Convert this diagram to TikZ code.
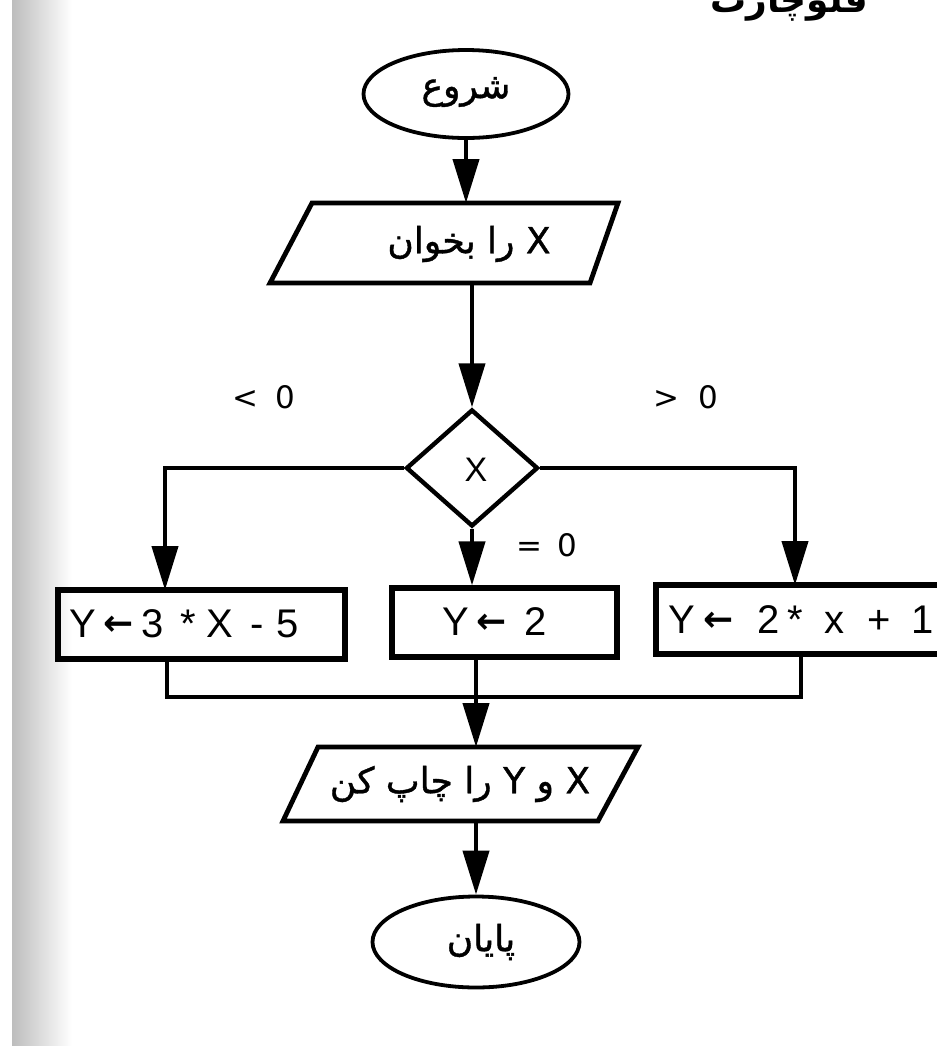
\documentclass[tikz,border=0pt]{standalone}
\usepackage{fontspec}
\setmainfont{Liberation Sans}
\newfontfamily\arabicfont[Script=Arabic,FakeBold=1.1]{DejaVu Sans}
\newfontfamily\arabicbold[Script=Arabic]{DejaVu Sans Bold}
\newfontfamily\symfont{DejaVu Sans}
\newfontfamily\symbold{DejaVu Sans Bold}
\TeXXeTstate=1
\newcommand{\myarrow}{\raisebox{1pt}{\symbold\fontsize{18}{21}\selectfont ←}}
\usetikzlibrary{shapes.geometric,arrows.meta}
\begin{document}
\begin{tikzpicture}[x=0.5pt,y=-0.5pt,
  conn/.style={line width=2.1pt},
  arr/.style={conn,-{Triangle[length=22pt,width=13pt]}},
  shapeline/.style={line width=2.4pt,line join=miter},
  box/.style={draw,rectangle,line width=2.6pt,inner sep=0pt,minimum height=34.5pt},
  term/.style={draw,ellipse,line width=1.9pt,inner sep=0pt},
  ar/.style={inner sep=0pt,font=\arabicfont\fontsize{18}{22}\selectfont},
  boxtxt/.style={inner sep=0pt,anchor=west,font=\fontsize{20}{24}\selectfont},
  lbl/.style={inner sep=0pt,anchor=west,font=\symfont\fontsize{15.5}{19}\selectfont}]
\useasboundingbox (0,0) rectangle (937,1046);
\clip (0,0) rectangle (937,1046);
\fill[white] (0,0) rectangle (937,1046);
\shade[left color=black!26,right color=white] (12,0) rectangle (72,1046);
% title (cut off at the top edge)
\node[inner sep=0pt,anchor=base west,font=\arabicbold\fontsize{18}{22}\selectfont] (title) at (710,12) {\beginR فلوچارت\endR};
% start
\node[term,minimum width=102.5pt,minimum height=44pt] (start) at (466,94) {};
\node[ar] (starttxt) at (466,92) {\beginR شروع\endR};
% input
\coordinate (i1) at (312,203);
\coordinate (i2) at (618,203);
\coordinate (i3) at (590,283);
\coordinate (i4) at (270,283);
\draw[shapeline] (i1) -- (i2) -- (i3) -- (i4) -- cycle;
\node[ar] (intxt) at (469,244) {\beginR X را بخوان\endR};
\coordinate (intop) at (466,203);
\coordinate (inbot) at (472,283);
\draw[arr] (start.south) -- (intop);
% decision
\node[diamond,draw,line width=2.2pt,minimum width=66pt,minimum height=58.5pt,inner sep=0pt] (dec) at (472,468) {};
\node[inner sep=0pt,font=\fontsize{17}{20}\selectfont] (dectxt) at (476,470) {X};
\draw[arr] (inbot) -- (dec.north);
\node[lbl] (lt) at (232.5,397) {<\hspace{8.5pt}0};
\node[lbl] (gt) at (653.5,397) {>\hspace{9.5pt}0};
\node[lbl] (eq) at (516.5,545) {=\hspace{7.5pt}0};
% process boxes
\node[box,minimum width=143.5pt] (lbox) at (201.5,624.5) {};
\node[boxtxt] (ltxt) at (69,624) {Y\hspace{3.9pt}\myarrow\hspace{3.75pt}3\hspace{8.5pt}*\hspace{5pt}X\hspace{8.5pt}-\hspace{6.5pt}5};
\node[box,minimum width=112.5pt] (mbox) at (504.5,622.5) {};
\node[boxtxt] (mtxt) at (442,622) {Y\hspace{3.9pt}\myarrow\hspace{8.75pt}2};
\node[box,minimum width=152pt] (rbox) at (808,619.5) {};
\node[boxtxt] (rtxt) at (668,620) {Y\hspace{4.4pt}\myarrow\hspace{11.75pt}2\hspace{4pt}*\hspace{10.5pt}x\hspace{11.5pt}+\hspace{10.5pt}1};
\coordinate (lin) at (165,590);
\coordinate (rin) at (795,585);
\draw[arr] (dec.west) -| (lin);
\draw[arr] (dec.east) -| (rin);
\draw[arr] (dec.south) -- (dec.south |- mbox.north);
% merge
\coordinate (jl) at (167,697);
\coordinate (jr) at (801,697);
\coordinate (outtop) at (476,747);
\draw[conn] (lbox.south -| jl) -- (jl) -- (jr) -- (rbox.south -| jr);
\draw[arr] (mbox.south -| outtop) -- (outtop);
% output
\coordinate (o1) at (318,747);
\coordinate (o2) at (638,747);
\coordinate (o3) at (598,821);
\coordinate (o4) at (283,821);
\draw[shapeline] (o1) -- (o2) -- (o3) -- (o4) -- cycle;
\node[ar] (outtxt) at (460,784) {\beginR X و Y را چاپ کن\endR};
\coordinate (outbot) at (476,821);
% end
\node[term,minimum width=103.5pt,minimum height=45.5pt] (end) at (476,942) {};
\node[ar] (endtxt) at (481,942) {\beginR پایان\endR};
\draw[arr] (outbot) -- (end.north);
\end{tikzpicture}
\end{document}
